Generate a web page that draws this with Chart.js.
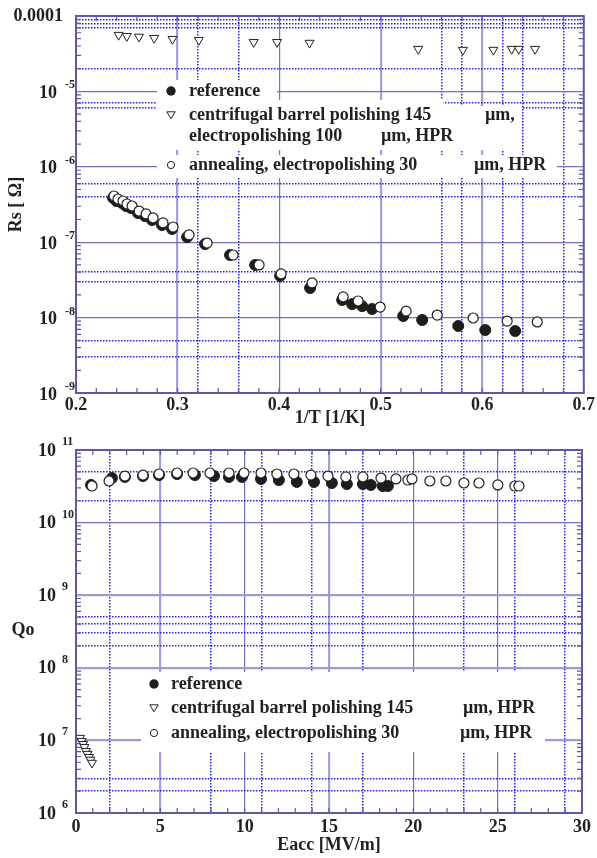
<!DOCTYPE html>
<html>
<head>
<meta charset="utf-8">
<script src="https://cdn.jsdelivr.net/npm/chart.js@4.4.1/dist/chart.umd.min.js"></script>
<style>
  body { margin: 0; background: #fff; width: 597px; height: 858px; overflow: hidden; position: relative; }
  canvas { position: absolute; left: 0; }
  #rsChart { top: 0; }
  #qoChart { top: 430px; }
</style>
</head>
<body>
<canvas id="rsChart" width="597" height="430"></canvas>
<canvas id="qoChart" width="597" height="428"></canvas>
<script>
const ink = '#231f20';
const serif = '"Liberation Serif", "Times New Roman", serif';
const frameColor = '#5a5aa6';
const dotColor = '#2424e6';

// --- top panel: Rs vs 1/T ---
const invTRef = [0.2365, 0.240, 0.2453, 0.2493, 0.2542, 0.2611, 0.268, 0.2749, 0.2847, 0.2946, 0.3094, 0.3271, 0.3517, 0.3764, 0.401, 0.4305, 0.4621, 0.4719, 0.4818, 0.4916, 0.5222, 0.5409, 0.5764, 0.603, 0.6325];
const rsRef = [3.86e-7, 3.5e-7, 3.31e-7, 3.02e-7, 2.84e-7, 2.44e-7, 2.22e-7, 1.97e-7, 1.69e-7, 1.50e-7, 1.17e-7, 9.46e-8, 6.76e-8, 4.99e-8, 3.57e-8, 2.47e-8, 1.71e-8, 1.51e-8, 1.42e-8, 1.30e-8, 1.05e-8, 9.29e-9, 7.74e-9, 6.85e-9, 6.64e-9];
const invTCbp = [0.242, 0.250, 0.262, 0.277, 0.295, 0.321, 0.375, 0.398, 0.430, 0.537, 0.581, 0.611, 0.629, 0.636, 0.652];
const rsCbp = [5.6e-5, 5.4e-5, 5.3e-5, 5.1e-5, 4.95e-5, 4.8e-5, 4.5e-5, 4.5e-5, 4.4e-5, 3.65e-5, 3.55e-5, 3.55e-5, 3.65e-5, 3.65e-5, 3.65e-5];
const invTAnn = [0.2374, 0.2414, 0.2463, 0.2502, 0.2552, 0.2621, 0.269, 0.2759, 0.2857, 0.2956, 0.3113, 0.3291, 0.3547, 0.3803, 0.402, 0.4325, 0.4631, 0.4778, 0.4995, 0.5251, 0.5557, 0.5911, 0.6246, 0.6542];
const rsAnn = [4.10e-7, 3.74e-7, 3.52e-7, 3.21e-7, 3.02e-7, 2.59e-7, 2.37e-7, 2.10e-7, 1.80e-7, 1.59e-7, 1.25e-7, 9.75e-8, 6.76e-8, 4.99e-8, 3.79e-8, 2.88e-8, 1.88e-8, 1.66e-8, 1.38e-8, 1.22e-8, 1.08e-8, 9.88e-9, 9.0e-9, 8.75e-9];
const invTTicks = [0.2, 0.3, 0.4, 0.5, 0.6, 0.7];
const rsDecades = [-9, -8, -7, -6, -5, -4];

// --- bottom panel: Qo vs Eacc ---
const eaccRef = [0.89, 2.13, 2.90, 3.97, 4.92, 5.99, 7.05, 8.18, 9.07, 9.84, 10.97, 12.03, 13.09, 14.11, 15.17, 16.06, 17.01, 17.48, 18.19, 18.49];
const q0Ref = [3.30e10, 4.11e10, 4.25e10, 4.38e10, 4.52e10, 4.67e10, 4.52e10, 4.38e10, 4.25e10, 4.25e10, 3.99e10, 3.86e10, 3.63e10, 3.63e10, 3.51e10, 3.40e10, 3.40e10, 3.30e10, 3.19e10, 3.19e10];
const eaccCbp = [0.24, 0.33, 0.42, 0.50, 0.59, 0.68, 0.77, 0.86, 0.95];
const q0Cbp = [1.08e7, 9.8e6, 8.9e6, 8.1e6, 7.1e6, 6.5e6, 5.9e6, 5.4e6, 4.9e6];
const eaccAnn = [0.95, 1.96, 2.90, 3.97, 4.92, 5.99, 6.94, 7.94, 9.07, 9.96, 10.97, 11.91, 12.92, 13.93, 14.94, 16.00, 17.01, 18.08, 18.97, 19.68, 19.92, 20.98, 21.93, 23.00, 23.89, 25.01, 26.02, 26.26];
const q0Ann = [3.19e10, 3.74e10, 4.38e10, 4.52e10, 4.67e10, 4.82e10, 4.82e10, 4.82e10, 4.82e10, 4.82e10, 4.82e10, 4.67e10, 4.67e10, 4.52e10, 4.38e10, 4.25e10, 4.25e10, 4.11e10, 3.99e10, 3.86e10, 3.99e10, 3.74e10, 3.74e10, 3.51e10, 3.51e10, 3.30e10, 3.19e10, 3.19e10];
const eaccTicks = [0, 5, 10, 15, 20, 25, 30];
const q0Decades = [6, 7, 8, 9, 10, 11];

// legend wording
const rsLegendText = ['reference', 'centrifugal barrel polishing 145', 'µm,', 'electropolishing 100', 'µm, HPR', 'annealing, electropolishing 30', 'µm, HPR'];
const q0LegendText = ['reference', 'centrifugal barrel polishing 145', 'µm, HPR', 'annealing, electropolishing 30', 'µm, HPR'];

// odd extra grid lines of the original figure
const rsDotted = [9e-5, 8e-5, 7e-5, 2e-5, 7e-6, 6e-6, 6e-7, 4e-7, 4e-8, 3e-8, 5e-9, 3e-9];
const invTDotted = [0.32, 0.36, 0.56, 0.58, 0.62, 0.64, 0.68];
const q0Dotted = [5e10, 2e10, 5e8, 4e8, 3e8, 2e8, 3e6, 2e6];
const eaccDotted = [2, 8, 11, 14, 17, 23, 26, 29];

function pts(xs, ys) { return xs.map((x, i) => ({ x: x, y: ys[i] })); }
function has(list, v) { return list.some(m => Math.abs(m - v) <= Math.abs(v) * 1e-6 + 1e-12); }

function drawMarker(c, kind, x, y) {
  c.lineWidth = 1;
  c.strokeStyle = ink;
  c.beginPath();
  if (kind === 'tri') {
    c.moveTo(x - 4.2, y - 3.2); c.lineTo(x + 4.2, y - 3.2); c.lineTo(x, y + 3.8); c.closePath();
    c.fillStyle = '#fff'; c.fill(); c.stroke();
  } else if (kind === 'open') {
    c.arc(x, y, 3.6, 0, Math.PI * 2);
    c.fillStyle = '#fff'; c.fill(); c.stroke();
  } else {
    c.arc(x, y, 4.7, 0, Math.PI * 2);
    c.fillStyle = ink; c.fill();
  }
}

function panelDecor(cfg) {
  return {
    id: 'panelDecor',
    beforeDatasetsDraw(chart) {
      const c = chart.ctx;
      c.save();
      c.fillStyle = '#fff';
      cfg.boxes.forEach(b => c.fillRect(b[0], b[1], b[2], b[3]));
      cfg.legend.forEach(item => {
        drawMarker(c, item.marker, item.mx, item.my);
        c.font = 'bold 18px ' + serif;
        c.fillStyle = ink;
        c.textBaseline = 'middle';
        c.textAlign = 'left';
        item.text.forEach(t => c.fillText(t[0], t[1], t[2]));
      });
      c.restore();
    },
    afterDraw(chart) {
      const c = chart.ctx, a = chart.chartArea, xs = chart.scales.x, ys = chart.scales.y;
      const dec = cfg.decades;
      c.save();
      c.strokeStyle = frameColor;
      c.lineWidth = 1.2;
      c.beginPath();
      for (let d = dec[0]; d < dec[dec.length - 1]; d++) {
        for (let m = 2; m < 10; m++) {
          const py = ys.getPixelForValue(m * Math.pow(10, d));
          c.moveTo(a.left, py); c.lineTo(a.left + 5, py);
          c.moveTo(a.right, py); c.lineTo(a.right - 5, py);
        }
      }
      for (let v = xs.min; v <= xs.max + 1e-9; v += cfg.xMinorStep) {
        const px = xs.getPixelForValue(v);
        c.moveTo(px, a.bottom); c.lineTo(px, a.bottom - 5);
        c.moveTo(px, a.top); c.lineTo(px, a.top + 5);
      }
      c.stroke();
      c.lineWidth = 2;
      c.strokeRect(a.left, a.top, a.right - a.left, a.bottom - a.top);

      c.fillStyle = ink;
      c.textBaseline = 'middle';
      dec.forEach(d => {
        const py = ys.getPixelForValue(Math.pow(10, d));
        c.font = 'bold 18px ' + serif;
        c.textAlign = 'right';
        if (cfg.plainTop && d === dec[dec.length - 1]) {
          c.fillText(Math.pow(10, d).toFixed(-d), 63, py);
          return;
        }
        c.fillText('10', cfg.tenRight, py + cfg.tenDy);
        c.font = 'bold 12px ' + serif;
        c.textAlign = 'left';
        c.fillText(String(d), cfg.expLeft, py + cfg.expDy);
      });
      if (cfg.sideLabel) {
        c.font = 'bold 18px ' + serif;
        c.textAlign = 'center';
        c.fillText(cfg.sideLabel[0], cfg.sideLabel[1], cfg.sideLabel[2]);
      }
      c.restore();
    }
  };
}

function gridOpts(dotted, heavy, heavyColor, thinColor) {
  return {
    drawTicks: false,
    color: ctx => !ctx.tick ? thinColor : has(dotted, ctx.tick.value) ? dotColor : has(heavy, ctx.tick.value) ? heavyColor : thinColor,
    lineWidth: ctx => !ctx.tick ? 1 : has(dotted, ctx.tick.value) ? 1.5 : has(heavy, ctx.tick.value) ? 2.2 : 1.2
  };
}
function borderOpts(dotted) {
  return { display: false, dash: ctx => (ctx.type === 'tick' && has(dotted, ctx.tick.value)) ? [1.5, 1.5] : [] };
}

function makeChart(id, p) {
  const decadeVals = p.decades.map(d => Math.pow(10, d));
  const yVals = decadeVals.concat(p.yDotted).sort((u, v) => u - v);
  const xVals = p.xTicks.concat(p.xDotted).sort((u, v) => u - v);
  return new Chart(document.getElementById(id), {
    type: 'scatter',
    data: {
      datasets: [
        { data: p.ann, pointStyle: 'circle', pointRadius: 5, pointBackgroundColor: '#fff', pointBorderColor: ink, pointBorderWidth: 1.2 },
        { data: p.cbp, pointStyle: 'triangle', rotation: 180, pointRadius: 5.2, pointBackgroundColor: '#fff', pointBorderColor: ink, pointBorderWidth: 1 },
        { data: p.ref, pointStyle: 'circle', pointRadius: 5.5, pointBackgroundColor: '#1d1d1d', pointBorderColor: '#1d1d1d', pointBorderWidth: 1 }
      ]
    },
    options: {
      responsive: false,
      animation: false,
      events: [],
      layout: { padding: p.padding },
      plugins: { legend: { display: false }, tooltip: { enabled: false } },
      scales: {
        x: {
          type: 'linear', min: p.xTicks[0], max: p.xTicks[p.xTicks.length - 1],
          afterBuildTicks: s => { s.ticks = xVals.map(v => ({ value: v })); },
          afterFit: s => { s.height = p.xHeight; },
          ticks: {
            autoSkip: false, maxRotation: 0, padding: p.xTickPad, color: ink,
            font: { family: serif, size: 18, weight: 'bold' },
            callback: v => has(p.xTicks, v) ? p.xFmt(v) : ''
          },
          grid: gridOpts(p.xDotted, p.xHeavy, '#a0a0d4', '#7272bc'),
          border: borderOpts(p.xDotted),
          title: { display: true, text: p.xTitle, color: ink, font: { family: serif, size: 18, weight: 'bold' }, padding: { top: 0, bottom: p.xTitlePad } }
        },
        y: {
          type: 'logarithmic', min: decadeVals[0], max: decadeVals[decadeVals.length - 1],
          afterBuildTicks: s => { s.ticks = yVals.map(v => ({ value: v })); },
          afterFit: s => { s.width = 76; },
          ticks: { display: false },
          grid: gridOpts(p.yDotted, p.yHeavy, '#9c9cd2', '#7070bb'),
          border: borderOpts(p.yDotted),
          title: { display: !!p.yTitle, text: p.yTitle || '', color: ink, font: { family: serif, size: 18, weight: 'bold' }, padding: { top: 6, bottom: 0 } }
        }
      }
    },
    plugins: [panelDecor(p.decor)]
  });
}

makeChart('rsChart', {
  ref: pts(invTRef, rsRef), cbp: pts(invTCbp, rsCbp), ann: pts(invTAnn, rsAnn),
  decades: rsDecades, yDotted: rsDotted, yHeavy: [],
  xTicks: invTTicks, xDotted: invTDotted, xHeavy: [0.3, 0.5, 0.6],
  xFmt: v => v.toFixed(1),
  xTitle: '1/T [1/K]', yTitle: 'Rs [ Ω]',
  padding: { left: 0, right: 13, top: 16, bottom: 0 },
  xHeight: 37, xTickPad: 2, xTitlePad: 1,
  decor: {
    decades: rsDecades, xMinorStep: 0.02, plainTop: true,
    tenRight: 57, tenDy: 2, expLeft: 65, expDy: -6,
    boxes: [[157, 80, 120, 21], [157, 100, 286, 6], [157, 106, 365, 44], [157, 155, 400, 23]],
    legend: [
      { marker: 'filled', mx: 171, my: 91, text: [[rsLegendText[0], 189, 91]] },
      { marker: 'tri', mx: 171, my: 115, text: [[rsLegendText[1], 189, 115], [rsLegendText[2], 485, 115], [rsLegendText[3], 189, 136], [rsLegendText[4], 381, 136]] },
      { marker: 'open', mx: 171, my: 165, text: [[rsLegendText[5], 189, 165], [rsLegendText[6], 474, 165]] }
    ]
  }
});

makeChart('qoChart', {
  ref: pts(eaccRef, q0Ref), cbp: pts(eaccCbp, q0Cbp), ann: pts(eaccAnn, q0Ann),
  decades: q0Decades, yDotted: q0Dotted, yHeavy: [1e9, 1e8, 1e7],
  xTicks: eaccTicks, xDotted: eaccDotted, xHeavy: [5, 15],
  xFmt: v => String(v),
  xTitle: 'Eacc [MV/m]', yTitle: null,
  padding: { left: 0, right: 15, top: 20, bottom: 0 },
  xHeight: 45, xTickPad: 4, xTitlePad: 2,
  decor: {
    decades: q0Decades, xMinorStep: 1, plainTop: false,
    tenRight: 56, tenDy: 1, expLeft: 62, expDy: -8,
    sideLabel: ['Qo', 23, 200],
    boxes: [[141, 242, 404, 80]],
    legend: [
      { marker: 'filled', mx: 154, my: 254, text: [[q0LegendText[0], 171, 254]] },
      { marker: 'tri', mx: 154, my: 278, text: [[q0LegendText[1], 171, 278], [q0LegendText[2], 463, 278]] },
      { marker: 'open', mx: 154, my: 303, text: [[q0LegendText[3], 171, 303], [q0LegendText[4], 460, 303]] }
    ]
  }
});
</script>
</body>
</html>
